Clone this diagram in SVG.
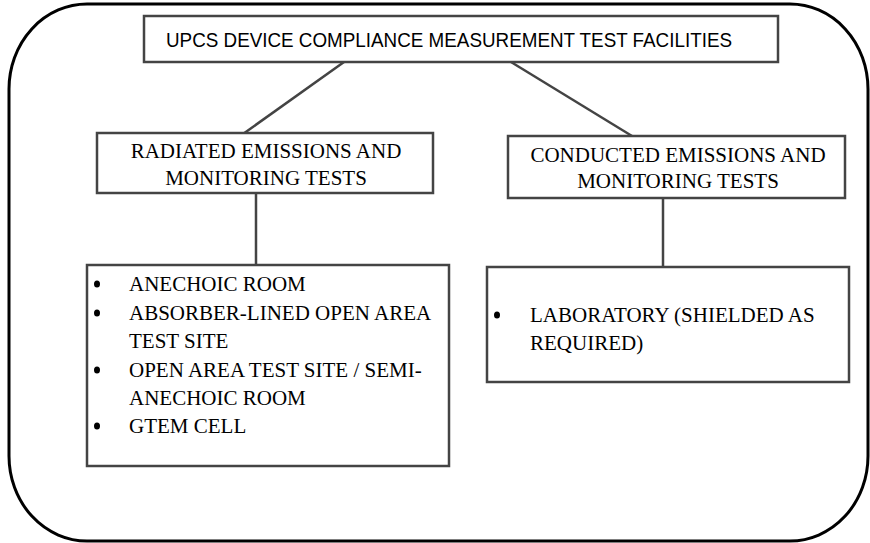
<svg xmlns="http://www.w3.org/2000/svg" width="870" height="543" viewBox="0 0 870 543">
<style>
.frame{fill:none;stroke:#000;stroke-width:3}
.box{fill:#fff;stroke:#444;stroke-width:2.5}
.conn{fill:none;stroke:#444;stroke-width:2.5}
.sans{font-family:'Liberation Sans',Arial,sans-serif;font-size:21px;fill:#000}
.serif{font-family:'Liberation Serif','Times New Roman','DejaVu Serif',serif;font-size:21px;fill:#000}
.mid{text-anchor:middle}
.bul{fill:#000}
</style>
<rect class="frame" x="9" y="4" width="859" height="537" rx="78" ry="85"/>
<g id="connectors">
<line class="conn" x1="344" y1="62" x2="243" y2="134"/>
<line class="conn" x1="511" y1="62" x2="632" y2="136"/>
<line class="conn" x1="256" y1="193" x2="256" y2="265"/>
<line class="conn" x1="663" y1="198" x2="663" y2="267"/>
</g>
<g id="root">
<rect class="box" x="144" y="16" width="634" height="46"/>
<text class="sans" x="166" y="47" textLength="566" lengthAdjust="spacingAndGlyphs">UPCS DEVICE COMPLIANCE MEASUREMENT TEST FACILITIES</text>
</g>
<g id="radiated">
<rect class="box" x="97" y="133" width="336" height="60"/>
<text class="serif mid" x="266" y="158">RADIATED EMISSIONS AND</text>
<text class="serif mid" x="266" y="185">MONITORING TESTS</text>
</g>
<g id="conducted">
<rect class="box" x="508" y="136" width="337" height="62"/>
<text class="serif mid" x="678" y="162">CONDUCTED EMISSIONS AND</text>
<text class="serif mid" x="678" y="188">MONITORING TESTS</text>
</g>
<g id="radiated-list">
<rect class="box" x="87" y="265" width="362" height="201"/>
<ellipse class="bul" cx="97" cy="284" rx="3" ry="3.5"/>
<text class="serif" x="129" y="291">ANECHOIC ROOM</text>
<ellipse class="bul" cx="97" cy="313" rx="3" ry="3.5"/>
<text class="serif" x="129" y="320">ABSORBER-LINED OPEN AREA</text>
<text class="serif" x="129" y="348">TEST SITE</text>
<ellipse class="bul" cx="97" cy="370" rx="3" ry="3.5"/>
<text class="serif" x="129" y="377">OPEN AREA TEST SITE / SEMI-</text>
<text class="serif" x="129" y="405">ANECHOIC ROOM</text>
<ellipse class="bul" cx="97" cy="426" rx="3" ry="3.5"/>
<text class="serif" x="129" y="433">GTEM CELL</text>
</g>
<g id="conducted-list">
<rect class="box" x="487" y="267" width="362" height="115"/>
<ellipse class="bul" cx="497" cy="315" rx="3" ry="3.5"/>
<text class="serif" x="530" y="322">LABORATORY (SHIELDED AS</text>
<text class="serif" x="530" y="350">REQUIRED)</text>
</g>
</svg>
